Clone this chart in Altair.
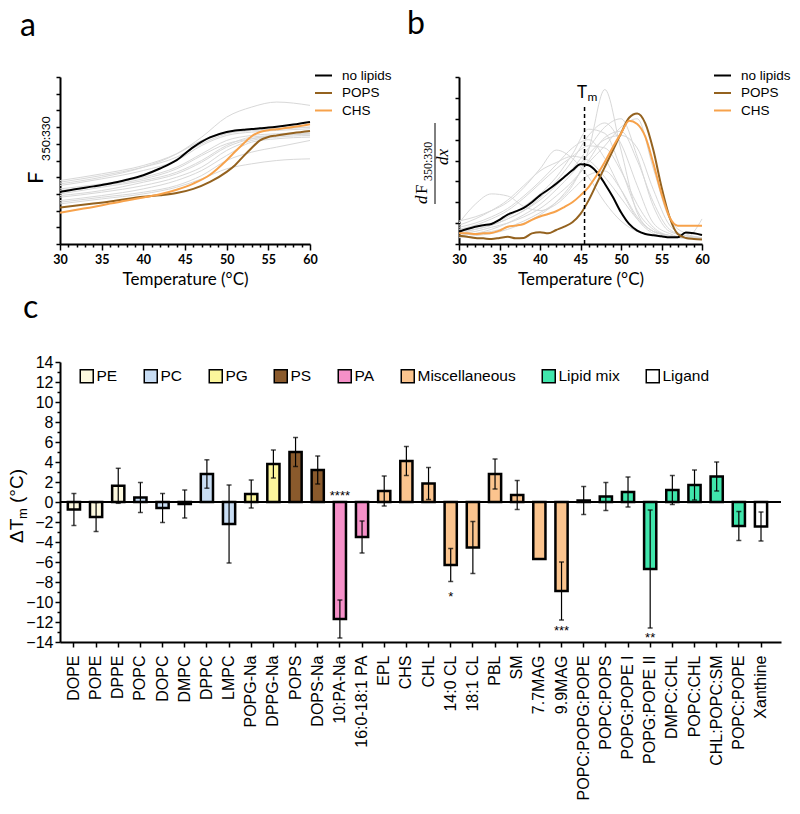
import altair as alt
import pandas as pd

# ---------------- panel a : F350:330 melting curves ----------------
A_TEMP = [30, 32, 34, 36, 38, 40, 42, 44, 46, 48, 50, 51, 52, 53, 54, 55, 56, 58, 60]
A_NO_LIPIDS = [3.13, 3.30, 3.45, 3.62, 3.85, 4.12, 4.52, 5.02, 5.80, 6.38, 6.71, 6.80, 6.84, 6.88, 6.93, 6.97, 7.02, 7.15, 7.31]
A_POPS = [2.19, 2.30, 2.42, 2.55, 2.70, 2.83, 2.92, 3.05, 3.30, 3.72, 4.32, 4.72, 5.25, 5.75, 6.21, 6.41, 6.50, 6.65, 6.77]
A_CHS = [1.87, 2.05, 2.22, 2.42, 2.60, 2.79, 2.98, 3.25, 3.62, 4.15, 5.02, 5.52, 6.00, 6.45, 6.71, 6.81, 6.87, 7.00, 7.17]

A_GREY_TEMP = [30, 35, 40, 44, 47, 50, 53, 56, 60]
A_GREY = [
    [3.6, 4.0, 4.6, 5.4, 6.4, 7.6, 8.2, 8.5, 8.3],
    [3.8, 4.2, 4.7, 5.4, 6.2, 6.7, 6.8, 6.9, 7.0],
    [3.5, 3.9, 4.4, 5.0, 5.9, 6.5, 6.7, 6.8, 6.9],
    [3.3, 3.6, 4.0, 4.6, 5.4, 6.2, 6.5, 6.6, 6.7],
    [3.0, 3.4, 3.8, 4.3, 5.0, 5.9, 6.4, 6.5, 6.6],
    [2.8, 3.1, 3.5, 4.0, 4.6, 5.6, 6.2, 6.4, 6.5],
    [2.6, 2.9, 3.3, 3.8, 4.4, 5.3, 6.1, 6.3, 6.4],
    [2.5, 2.8, 3.1, 3.5, 4.1, 5.0, 5.5, 5.8, 6.2],
    [2.4, 2.7, 3.0, 3.4, 3.9, 4.5, 4.8, 5.0, 5.1],
    [3.2, 3.5, 3.9, 4.5, 5.3, 6.0, 6.3, 6.5, 6.6],
    [2.9, 3.2, 3.7, 4.2, 4.9, 5.8, 6.3, 6.5, 6.6],
    [3.7, 4.1, 4.6, 5.2, 6.0, 6.6, 6.8, 6.9, 7.0],
]

# ---------------- panel b : first derivative ----------------
B_TEMP = list(range(30, 61))
B_NO_LIPIDS = [0.59, 0.72, 0.83, 0.90, 0.96, 1.16, 1.41, 1.56, 1.73, 2.00, 2.33, 2.60, 2.89, 3.21, 3.53, 3.82,
               3.77, 3.45, 2.89, 2.25, 1.52, 0.96, 0.64, 0.48, 0.42, 0.37, 0.32, 0.32, 0.55, 0.51, 0.43]
B_POPS = [0.40, 0.35, 0.29, 0.27, 0.24, 0.29, 0.35, 0.27, 0.29, 0.51, 0.56, 0.51, 0.67, 0.83, 1.04, 1.44,
          2.09, 2.89, 3.69, 4.49, 5.30, 6.05, 6.25, 5.78, 4.49, 2.73, 1.28, 0.48, 0.29, 0.24, 0.21]
B_CHS = [0.51, 0.51, 0.48, 0.51, 0.53, 0.64, 0.83, 0.88, 0.96, 1.16, 1.32, 1.44, 1.57, 1.77, 2.00, 2.33,
         2.73, 3.29, 3.93, 4.65, 5.30, 5.90, 5.75, 5.14, 3.85, 2.41, 1.28, 0.88, 0.88, 0.88, 0.88]

B_GREY_TEMP = [30, 32, 34, 36, 38, 40, 42, 44, 46, 48, 50, 52, 54, 56, 58, 60]
B_GREY = [
    [1.0, 1.9, 2.4, 2.3, 1.8, 1.6, 1.9, 2.6, 3.3, 3.5, 2.6, 1.3, 0.6, 0.4, 0.3, 0.3],
    [1.1, 1.3, 1.6, 2.0, 2.7, 3.6, 4.5, 4.1, 3.2, 2.0, 1.1, 0.6, 0.4, 0.3, 0.3, 0.3],
    [0.4, 0.5, 0.6, 0.8, 1.1, 1.5, 2.0, 2.8, 4.5, 7.4, 4.5, 1.5, 0.6, 0.4, 0.3, 0.3],
    [0.6, 0.8, 1.0, 1.3, 1.8, 2.4, 3.2, 4.3, 5.5, 5.3, 3.6, 1.6, 0.7, 0.4, 0.3, 0.3],
    [0.5, 0.7, 0.9, 1.2, 1.6, 2.1, 2.8, 3.6, 4.6, 5.6, 6.0, 4.2, 1.8, 0.6, 0.4, 0.3],
    [0.7, 0.9, 1.2, 1.6, 2.2, 2.9, 3.6, 4.2, 4.7, 4.6, 3.5, 1.9, 0.8, 0.4, 0.3, 0.3],
    [0.3, 0.4, 0.5, 0.7, 1.0, 1.4, 2.0, 2.9, 4.0, 5.1, 5.4, 4.0, 2.0, 0.7, 0.4, 0.3],
    [0.8, 1.0, 1.3, 1.7, 2.3, 3.0, 3.8, 4.6, 5.0, 4.1, 2.6, 1.2, 0.5, 0.3, 0.3, 0.3],
    [0.4, 0.5, 0.7, 1.0, 1.4, 1.9, 2.6, 3.4, 4.3, 5.0, 5.2, 4.6, 2.6, 0.9, 0.4, 0.3],
    [0.9, 1.2, 1.6, 2.1, 2.8, 3.5, 3.9, 4.2, 4.0, 3.2, 2.2, 1.2, 0.6, 0.4, 0.3, 1.2],
    [0.6, 0.7, 0.9, 1.2, 1.6, 2.2, 3.0, 4.0, 5.2, 5.8, 4.8, 2.8, 1.0, 0.5, 0.3, 0.3],
    [0.5, 0.6, 0.8, 1.0, 1.3, 1.7, 2.3, 3.0, 3.9, 4.7, 5.6, 6.0, 3.6, 1.2, 0.5, 0.3],
]
TM = 45.5
TM_TOP = 6.65

SERIES = ["no lipids", "POPS", "CHS"]
SERIES_COLORS = ["#000000", "#94621f", "#f7a24b"]

# ---------------- panel c : delta Tm bars ----------------
LIPIDS = ["DOPE", "POPE", "DPPE", "POPC", "DOPC", "DMPC", "DPPC", "LMPC", "POPG-Na", "DPPG-Na",
          "POPS", "DOPS-Na", "10:PA-Na", "16:0-18:1 PA", "EPL", "CHS", "CHL", "14:0 CL", "18:1 CL",
          "PBL", "SM", "7.7MAG", "9.9MAG", "POPC:POPG:POPE", "POPC:POPS", "POPG:POPE I",
          "POPG:POPE II", "DMPC:CHL", "POPC:CHL", "CHL:POPC:SM", "POPC:POPE", "Xanthine"]
GROUPS = ["PE", "PE", "PE", "PC", "PC", "PC", "PC", "PC", "PG", "PG",
          "PS", "PS", "PA", "PA", "Miscellaneous", "Miscellaneous", "Miscellaneous", "Miscellaneous",
          "Miscellaneous", "Miscellaneous", "Miscellaneous", "Miscellaneous", "Miscellaneous",
          "Lipid mix", "Lipid mix", "Lipid mix", "Lipid mix", "Lipid mix", "Lipid mix", "Lipid mix",
          "Lipid mix", "Ligand"]
DTM = [-0.75, -1.5, 1.62, 0.45, -0.6, -0.2, 2.8, -2.2, 0.8, 3.8,
       5.0, 3.2, -11.7, -3.5, 1.1, 4.1, 1.85, -6.3, -4.55,
       2.8, 0.7, -5.7, -8.9, 0.15, 0.55, 1.0,
       -6.7, 1.2, 1.7, 2.55, -2.4, -2.45]
ERR = [1.6, 1.45, 1.75, 1.5, 1.45, 1.4, 1.42, 3.9, 1.4, 1.4,
       1.45, 1.4, 1.9, 1.6, 1.5, 1.45, 1.6, 1.65, 2.6,
       1.5, 1.45, 0.0, 2.9, 1.4, 1.4, 1.5,
       5.9, 1.45, 1.5, 1.45, 1.45, 1.45]
GROUP_ORDER = ["PE", "PC", "PG", "PS", "PA", "Miscellaneous", "Lipid mix", "Ligand"]
GROUP_COLORS = ["#fdf9df", "#c8ddf4", "#fcf69c", "#8a5a2c", "#f590c8", "#fbc48e", "#40e6ac", "#ffffff"]

STAR_LIPIDS = ["10:PA-Na", "14:0 CL", "9.9MAG", "POPG:POPE II"]
STAR_TEXT = ["****", "*", "***", "**"]
STAR_Y = [0.2, -9.85, -13.25, -14.0]

SANS = "Liberation Sans"
CAL = "Lato"


def txt(t, x, y, size, font=SANS, angle=0, align="left", baseline="alphabetic", style="normal", weight="normal"):
    return alt.Chart(pd.DataFrame({"t": [t]})).mark_text(
        text=t, font=font, fontSize=size, angle=angle, align=align, baseline=baseline,
        fontStyle=style, fontWeight=weight, color="black"
    ).encode(x=alt.value(x), y=alt.value(y))


def temp_axis():
    return alt.Axis(
        values=list(range(30, 61)),
        labelExpr="datum.value % 5 === 0 ? datum.label : ''",
        tickSize={"condition": {"test": "datum.value % 5 === 0", "value": 6}, "value": 3},
        title="Temperature (°C)", titleFont=CAL, titleFontSize=17, titleFontWeight="normal",
        titlePadding=6, labelFont=CAL, labelFontWeight="bold", labelFontSize=12.5, labelPadding=3,
        labelFlush=False, labelOverlap=False, domainWidth=2, tickWidth=1.5,
    )


def plain_y_axis(n):
    return alt.Axis(values=list(range(0, n + 1)), labels=False, title=None, tickSize=4,
                    domainWidth=2, tickWidth=1.5)


def long_main(temps, cols, key):
    rows = []
    for name, vals in zip(SERIES, cols):
        for t, v in zip(temps, vals):
            rows.append({"T": t, "v": v, key: name})
    return pd.DataFrame(rows)


def long_grey(temps, curves):
    rows = []
    for i, vals in enumerate(curves):
        for t, v in zip(temps, vals):
            rows.append({"T": t, "v": v, "curve": i})
    return pd.DataFrame(rows)


def line_legend():
    return alt.Legend(orient="none", legendX=254, legendY=-11, title=None, symbolType="stroke",
                      symbolSize=289, symbolStrokeWidth=2, labelFont=SANS, labelFontSize=13.5,
                      labelColor="black", labelOffset=9, rowPadding=1.5)


W_AB, H_AB = 250, 167

# ----- panel a -----
a_xscale = alt.Scale(domain=[30, 60], nice=False)
a_yscale = alt.Scale(domain=[0, 10], nice=False)
xa = alt.X("T:Q", scale=a_xscale, axis=temp_axis())
ya = alt.Y("v:Q", scale=a_yscale, axis=plain_y_axis(10))
a_grey = alt.Chart(long_grey(A_GREY_TEMP, A_GREY)).mark_line(
    color="#d8d8d8", strokeWidth=1, interpolate="monotone").encode(xa, ya, detail="curve:N")
a_main = alt.Chart(long_main(A_TEMP, [A_NO_LIPIDS, A_POPS, A_CHS], "series_a")).mark_line(
    strokeWidth=2, interpolate="monotone").encode(
    xa, ya, color=alt.Color("series_a:N", scale=alt.Scale(domain=SERIES, range=SERIES_COLORS),
                            legend=line_legend()))
panel_a = alt.layer(
    a_grey, a_main,
    txt("a", -40, -41, 32, font=CAL),
    txt("F", -17, 107, 22, font=CAL, angle=270),
    txt("350:330", -10, 84, 12, font=CAL, angle=270),
).properties(width=W_AB, height=H_AB)

# ----- panel b -----
b_xscale = alt.Scale(domain=[30, 60], nice=False)
b_yscale = alt.Scale(domain=[0, 8], nice=False)
b_xaxis = temp_axis()
b_yaxis = plain_y_axis(8)
xb = alt.X("T:Q", scale=b_xscale, axis=b_xaxis)
yb = alt.Y("v:Q", scale=b_yscale, axis=b_yaxis)
b_grey = alt.Chart(long_grey(B_GREY_TEMP, B_GREY)).mark_line(
    color="#d8d8d8", strokeWidth=1, interpolate="monotone").encode(xb, yb, detail="curve:N")
b_main = alt.Chart(long_main(B_TEMP, [B_NO_LIPIDS, B_POPS, B_CHS], "series_b")).mark_line(
    strokeWidth=2, interpolate="monotone").encode(
    xb, yb, color=alt.Color("series_b:N", scale=alt.Scale(domain=SERIES, range=SERIES_COLORS),
                            legend=line_legend()))
tm_df = pd.DataFrame({"T": [TM], "v": [0], "v1": [TM_TOP]})
b_tm = alt.Chart(tm_df).mark_rule(color="black", strokeWidth=1.5, strokeDash=[4, 3]).encode(
    x=xb, y=yb, y2="v1:Q")
tm_lbl = pd.DataFrame({"T": [TM - 0.3, TM + 0.35], "v": [6.98, 6.85], "t": ["T", "m"],
                       "s": ["big", "small"]})
b_tm_T = alt.Chart(tm_lbl[tm_lbl.s == "big"]).mark_text(
    font=CAL, fontSize=17, align="center", baseline="alphabetic", color="black").encode(
    x=xb, y=yb, text="t:N")
b_tm_m = alt.Chart(tm_lbl[tm_lbl.s == "small"]).mark_text(
    font=CAL, fontSize=12, align="left", baseline="alphabetic", color="black").encode(
    x=xb, y=yb, text="t:N")
frac_bar = alt.Chart(pd.DataFrame({"k": [0]})).mark_rule(color="black", strokeWidth=1).encode(
    x=alt.value(-24), y=alt.value(46), y2=alt.value(127))
panel_b = alt.layer(
    b_grey, b_main, b_tm, b_tm_T, b_tm_m,
    txt("b", -52, -43, 32, font=CAL),
    txt("d", -32, 127, 17, font="Liberation Serif", angle=270, style="italic"),
    txt("F", -32, 117, 17, font="Liberation Serif", angle=270),
    txt("350:330", -27, 104, 12, font="Liberation Serif", angle=270),
    frac_bar,
    txt("dx", -11, 80, 17, font="Liberation Serif", angle=270, align="center", style="italic"),
).properties(width=W_AB - 7, height=H_AB)

# ----- panel c -----
c_df = pd.DataFrame({"lipid": LIPIDS, "group": GROUPS, "dtm": DTM, "err": ERR})
xscale_c = alt.Scale(paddingInner=0.45, paddingOuter=0.49, align=0.36)
c_xaxis = alt.Axis(title=None, labelAngle=270, labelAlign="right", labelBaseline="middle",
                   labelFont=SANS, labelFontSize=16, labelPadding=8, tickSize=5,
                   domainWidth=2, tickWidth=1.5, labelOverlap=False, labelColor="black")
xc = alt.X("lipid:N", sort=LIPIDS, scale=xscale_c, axis=c_xaxis)
yscale_c = alt.Scale(domain=[-14, 14], nice=False)
c_yaxis = alt.Axis(title=None, values=list(range(-14, 15)),
                   labelExpr="datum.value % 2 === 0 ? datum.label : ''",
                   tickSize={"condition": {"test": "datum.value % 2 === 0", "value": 5}, "value": 3},
                   labelFont=SANS, labelFontSize=16, labelPadding=2, labelOverlap=False,
                   domainWidth=2, tickWidth=1.5)


def yc(field):
    return alt.Y(field, scale=yscale_c, axis=c_yaxis)


bars = alt.Chart(c_df).mark_bar(stroke="black", strokeWidth=2.5).encode(
    x=xc, y=yc("dtm:Q"),
    fill=alt.Fill("group:N", scale=alt.Scale(domain=GROUP_ORDER, range=GROUP_COLORS),
                  legend=alt.Legend(orient="none", legendX=19, legendY=6, direction="horizontal",
                                    title=None, symbolType="square", symbolSize=169,
                                    symbolStrokeColor="black", symbolStrokeWidth=1.5,
                                    symbolOpacity=1, labelFont=SANS, labelFontSize=15.5,
                                    labelColor="black", labelOffset=2, columnPadding=23)))
zero = alt.Chart(pd.DataFrame({"dtm": [0]})).mark_rule(color="black", strokeWidth=2).encode(
    y=yc("dtm:Q"))
err_base = alt.Chart(c_df).transform_filter("datum.err > 0").transform_calculate(
    lo="datum.dtm - datum.err", hi="datum.dtm + datum.err")
err_rule = err_base.mark_rule(color="black", strokeWidth=1.2).encode(
    x=xc, y=yc("lo:Q"), y2="hi:Q")
cap_lo = err_base.mark_tick(color="black", size=5, thickness=1.5, orient="horizontal").encode(
    x=xc, y=yc("lo:Q"))
cap_hi = err_base.mark_tick(color="black", size=5, thickness=1.5, orient="horizontal").encode(
    x=xc, y=yc("hi:Q"))
stars = alt.Chart(pd.DataFrame({"lipid": STAR_LIPIDS, "t": STAR_TEXT, "y": STAR_Y})).mark_text(
    font=SANS, fontSize=13, align="center", baseline="alphabetic", color="black").encode(
    x=xc, y=yc("y:Q"), text="t:N")
panel_c = alt.layer(
    bars, zero, err_rule, cap_lo, cap_hi, stars,
    txt("c", -37, -44, 32, font=CAL),
    txt("ΔT", -37, 181, 19, angle=270),
    txt("m", -33, 157, 13, angle=270),
    txt("(°C)", -37, 141, 19, angle=270),
).properties(width=721, height=280)

top = alt.hconcat(panel_a, panel_b, spacing=149, bounds="flush").resolve_scale(color="independent")
chart = alt.vconcat(top, panel_c, spacing=285, bounds="flush").resolve_scale(
    color="independent", fill="independent").properties(
    padding={"left": 0, "top": 0, "right": 0, "bottom": 0}
).configure_view(stroke=None).configure_axis(
    grid=False, domainColor="black", tickColor="black", labelColor="black", titleColor="black")

chart.save("out.html", embed_options={"renderer": "svg", "actions": False})
